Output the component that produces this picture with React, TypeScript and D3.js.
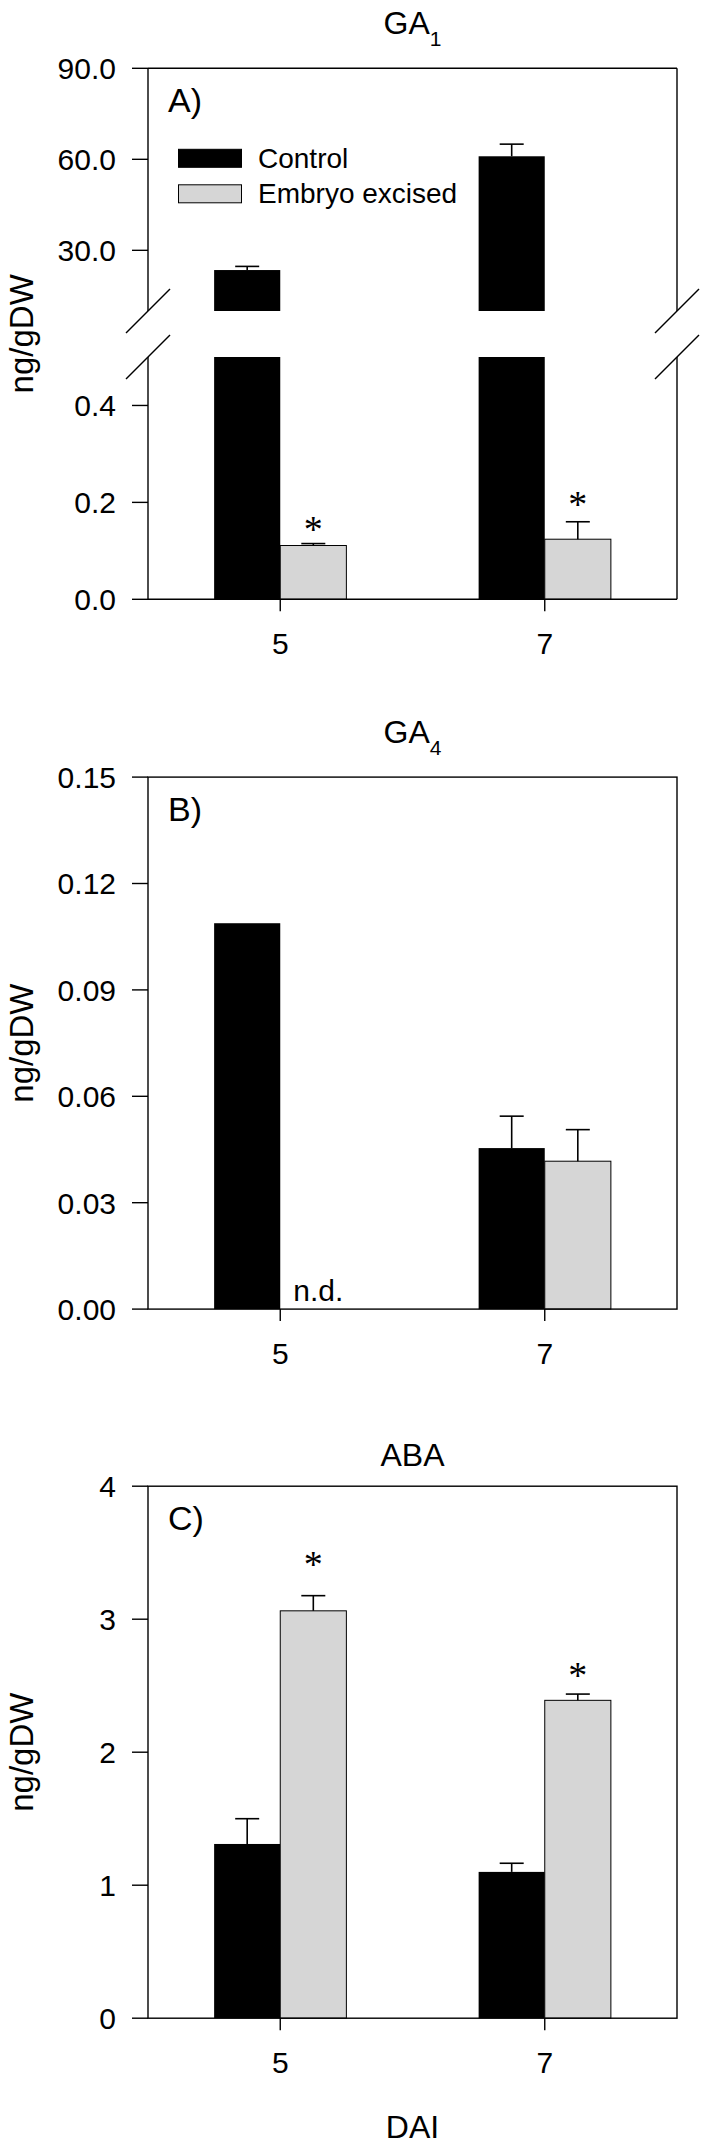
import React from 'react';
import * as d3 from 'd3';

// days after imbibition
const days = [5, 7];

// GA1 (broken axis panel)
const ga1Control = [23.5, 61.0];
const ga1ControlErr = [1.2, 4.0];
const ga1Excised = [0.111, 0.124];
const ga1ExcisedErr = [0.004, 0.036];
const ga1Stars = [0.158, 0.209];

// GA4
const ga4Control = [0.1088, 0.0454];
const ga4ControlErr = [0, 0.009];
const ga4Excised: (number | null)[] = [null, 0.0417];
const ga4ExcisedErr = [0, 0.0089];

// ABA
const abaControl = [1.31, 1.1];
const abaControlErr = [0.19, 0.065];
const abaExcised = [3.063, 2.39];
const abaExcisedErr = [0.114, 0.047];
const abaStars = [3.457, 2.624];

const ga1UpperTicks = [30, 60, 90];
const ga1LowerTicks = [0, 0.2, 0.4];
const ga4Ticks = [0, 0.03, 0.06, 0.09, 0.12, 0.15];
const abaTicks = [0, 1, 2, 3, 4];

const legendItems = ['Control', 'Embryo excised'];

const SANS = 'Liberation Sans, Arial, Helvetica, sans-serif';
const SERIF = 'Liberation Serif, Times New Roman, serif';
const GREY = '#d6d6d6';
const LEFT = 148;
const RIGHT = 677;
const TICK = 16;

const x = d3.scaleLinear().domain([4, 8]).range([LEFT, RIGHT]);
const barW = x(4.5) - x(4);

function YTicks({ y, ticks, fmt }: { y: d3.ScaleLinear<number, number>; ticks: number[]; fmt: (v: number) => string }) {
  return (
    <g>
      {ticks.map((t) => (
        <g key={t}>
          <line x1={LEFT - TICK} x2={LEFT} y1={y(t)} y2={y(t)} stroke="#000" strokeWidth={1.4} />
          <text x={LEFT - 32} y={y(t)} dy="0.36em" textAnchor="end" fontSize={30} fontFamily={SANS}>
            {fmt(t)}
          </text>
        </g>
      ))}
    </g>
  );
}

function XAxis({ bottom }: { bottom: number }) {
  return (
    <g>
      {days.map((d) => (
        <g key={d}>
          <line x1={x(d)} x2={x(d)} y1={bottom} y2={bottom + 12} stroke="#000" strokeWidth={1.4} />
          <text x={x(d)} y={bottom + 55} textAnchor="middle" fontSize={30} fontFamily={SANS}>
            {d}
          </text>
        </g>
      ))}
    </g>
  );
}

function ErrBar({ cx, y0, y1 }: { cx: number; y0: number; y1: number }) {
  if (Math.abs(y0 - y1) < 0.5) return null;
  return (
    <g stroke="#000" strokeWidth={1.6}>
      <line x1={cx} x2={cx} y1={y0} y2={y1} />
      <line x1={cx - 12} x2={cx + 12} y1={y1} y2={y1} />
    </g>
  );
}

function Star({ cx, cy }: { cx: number; cy: number }) {
  return (
    <text x={cx} y={cy + 19} textAnchor="middle" fontSize={38} fontFamily={SERIF}>
      *
    </text>
  );
}

function YLabel({ top, bottom }: { top: number; bottom: number }) {
  const cy = (top + bottom) / 2;
  return (
    <text transform={`translate(33,${cy}) rotate(-90)`} textAnchor="middle" fontSize={33} fontFamily={SANS}>
      ng/gDW
    </text>
  );
}

function Title({ top, main, sub }: { top: number; main: string; sub?: string }) {
  return (
    <text x={(LEFT + RIGHT) / 2} y={sub ? top - 34 : top - 20} textAnchor="middle" fontSize={32} fontFamily={SANS}>
      {main}
      {sub && (
        <tspan fontSize={21} dy={12}>
          {sub}
        </tspan>
      )}
    </text>
  );
}

function PanelA() {
  const top = 68.3;
  const breakHi = 311;
  const breakLo = 357;
  const bottom = 599.3;
  const yUp = d3.scaleLinear().domain([10, 90]).range([breakHi, top]);
  const yLo = d3.scaleLinear().domain([0, 0.5]).range([bottom, breakLo]);
  const slash = (cx: number, cy: number) => (
    <line x1={cx - 22} y1={cy + 22} x2={cx + 22} y2={cy - 22} stroke="#000" strokeWidth={1.4} />
  );
  return (
    <g>
      <Title top={top} main="GA" sub="1" />
      <YLabel top={top} bottom={bottom} />
      {/* bars, upper segment */}
      {days.map((d, i) => (
        <g key={'u' + d}>
          <rect x={x(d) - barW} y={yUp(ga1Control[i])} width={barW} height={breakHi - yUp(ga1Control[i])} fill="#000" />
          <ErrBar cx={x(d) - barW / 2} y0={yUp(ga1Control[i])} y1={yUp(ga1Control[i] + ga1ControlErr[i])} />
        </g>
      ))}
      {/* bars, lower segment */}
      {days.map((d, i) => (
        <g key={'l' + d}>
          <rect x={x(d) - barW} y={yLo(0.5)} width={barW} height={bottom - yLo(0.5)} fill="#000" />
          <rect x={x(d)} y={yLo(ga1Excised[i])} width={barW} height={bottom - yLo(ga1Excised[i])} fill={GREY} stroke="#000" strokeWidth={1} />
          <ErrBar cx={x(d) + barW / 2} y0={yLo(ga1Excised[i])} y1={yLo(ga1Excised[i] + ga1ExcisedErr[i])} />
          <Star cx={x(d) + barW / 2} cy={yLo(ga1Stars[i])} />
        </g>
      ))}
      {/* frame */}
      <g stroke="#000" strokeWidth={1.4} fill="none">
        <line x1={LEFT} x2={RIGHT} y1={top} y2={top} />
        <line x1={LEFT} x2={RIGHT} y1={bottom} y2={bottom} />
        <line x1={LEFT} x2={LEFT} y1={top} y2={breakHi} />
        <line x1={RIGHT} x2={RIGHT} y1={top} y2={breakHi} />
        <line x1={LEFT} x2={LEFT} y1={breakLo} y2={bottom} />
        <line x1={RIGHT} x2={RIGHT} y1={breakLo} y2={bottom} />
      </g>
      {slash(LEFT, breakHi)}
      {slash(LEFT, breakLo)}
      {slash(RIGHT, breakHi)}
      {slash(RIGHT, breakLo)}
      <YTicks y={yUp} ticks={ga1UpperTicks} fmt={d3.format('.1f')} />
      <YTicks y={yLo} ticks={ga1LowerTicks} fmt={d3.format('.1f')} />
      <XAxis bottom={bottom} />
      <text x={168} y={top + 44} fontSize={34} fontFamily={SANS}>
        A)
      </text>
      {/* legend */}
      {legendItems.map((name, i) => (
        <g key={name}>
          <rect x={178.5} y={top + 81 + i * 35.5} width={63} height={18} fill={i === 0 ? '#000' : GREY} stroke="#000" strokeWidth={1} />
          <text x={258} y={top + 100 + i * 35} fontSize={28} fontFamily={SANS}>
            {name}
          </text>
        </g>
      ))}
    </g>
  );
}

function SimplePanel({
  top,
  main,
  sub,
  label,
  domain,
  ticks,
  fmt,
  control,
  controlErr,
  excised,
  excisedErr,
  stars,
  nd,
}: {
  top: number;
  main: string;
  sub?: string;
  label: string;
  domain: [number, number];
  ticks: number[];
  fmt: (v: number) => string;
  control: number[];
  controlErr: number[];
  excised: (number | null)[];
  excisedErr: number[];
  stars?: number[];
  nd?: boolean;
}) {
  const bottom = top + 532;
  const y = d3.scaleLinear().domain(domain).range([bottom, top]);
  return (
    <g>
      <Title top={top} main={main} sub={sub} />
      <YLabel top={top} bottom={bottom} />
      {days.map((d, i) => {
        const ex = excised[i];
        return (
          <g key={d}>
            <rect x={x(d) - barW} y={y(control[i])} width={barW} height={bottom - y(control[i])} fill="#000" />
            <ErrBar cx={x(d) - barW / 2} y0={y(control[i])} y1={y(control[i] + controlErr[i])} />
            {ex != null ? (
              <g>
                <rect x={x(d)} y={y(ex)} width={barW} height={bottom - y(ex)} fill={GREY} stroke="#000" strokeWidth={1} />
                <ErrBar cx={x(d) + barW / 2} y0={y(ex)} y1={y(ex + excisedErr[i])} />
              </g>
            ) : (
              nd && (
                <text x={x(d) + 13} y={bottom - 8} fontSize={30} fontFamily={SANS}>
                  n.d.
                </text>
              )
            )}
            {stars && <Star cx={x(d) + barW / 2} cy={y(stars[i])} />}
          </g>
        );
      })}
      <rect x={LEFT} y={top} width={RIGHT - LEFT} height={bottom - top} fill="none" stroke="#000" strokeWidth={1.4} />
      <YTicks y={y} ticks={ticks} fmt={fmt} />
      <XAxis bottom={bottom} />
      <text x={168} y={top + 44} fontSize={34} fontFamily={SANS}>
        {label}
      </text>
    </g>
  );
}

export default function App() {
  return (
    <svg
      width={701}
      height={2147}
      viewBox="0 0 701 2147"
      style={{ position: 'absolute', left: 0, top: 0, background: '#fff', display: 'block' }}
    >
      <rect width={701} height={2147} fill="#fff" />
      <PanelA />
      <SimplePanel
        top={777.1}
        main="GA"
        sub="4"
        label="B)"
        domain={[0, 0.15]}
        ticks={ga4Ticks}
        fmt={d3.format('.2f')}
        control={ga4Control}
        controlErr={ga4ControlErr}
        excised={ga4Excised}
        excisedErr={ga4ExcisedErr}
        nd
      />
      <SimplePanel
        top={1486.2}
        main="ABA"
        label="C)"
        domain={[0, 4]}
        ticks={abaTicks}
        fmt={d3.format('d')}
        control={abaControl}
        controlErr={abaControlErr}
        excised={abaExcised}
        excisedErr={abaExcisedErr}
        stars={abaStars}
      />
      <text x={(LEFT + RIGHT) / 2} y={2138} textAnchor="middle" fontSize={32} fontFamily={SANS}>
        DAI
      </text>
    </svg>
  );
}
